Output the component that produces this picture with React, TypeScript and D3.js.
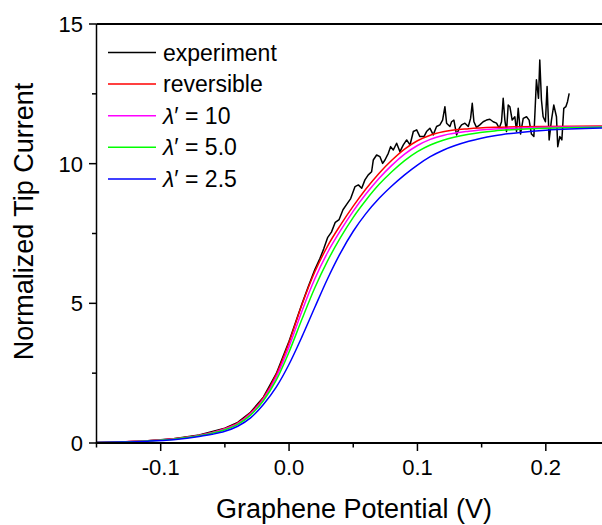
import React from "react";
import * as d3 from "d3";

// Potentials (V) for model curves
const potentials = [-0.15, -0.13, -0.11, -0.09, -0.07, -0.06, -0.05, -0.04, -0.03, -0.02, -0.01, 0.0, 0.01, 0.02, 0.03, 0.04, 0.05, 0.06, 0.07, 0.08, 0.09, 0.1, 0.11, 0.12, 0.14, 0.16, 0.18, 0.2, 0.25];
const reversible = [0.02, 0.04, 0.08, 0.15, 0.28, 0.38, 0.52, 0.72, 1.08, 1.62, 2.45, 3.6, 4.95, 6.12, 7.05, 7.8, 8.48, 9.1, 9.65, 10.12, 10.52, 10.82, 11.02, 11.14, 11.25, 11.3, 11.32, 11.33, 11.35];
const lambda10 = [0.02, 0.04, 0.078, 0.144, 0.27, 0.366, 0.5, 0.696, 1.044, 1.572, 2.36, 3.45, 4.72, 5.87, 6.82, 7.6, 8.3, 8.92, 9.47, 9.94, 10.34, 10.65, 10.87, 11.01, 11.16, 11.24, 11.28, 11.3, 11.34];
const lambda5 = [0.02, 0.038, 0.074, 0.137, 0.258, 0.349, 0.475, 0.666, 0.999, 1.512, 2.248, 3.26, 4.43, 5.55, 6.52, 7.35, 8.08, 8.7, 9.25, 9.71, 10.11, 10.43, 10.67, 10.84, 11.05, 11.17, 11.23, 11.27, 11.32];
const lambda25 = [0.02, 0.035, 0.065, 0.12, 0.23, 0.31, 0.42, 0.6, 0.9, 1.38, 2.0, 2.82, 3.8, 4.85, 5.88, 6.8, 7.58, 8.22, 8.75, 9.2, 9.6, 9.95, 10.25, 10.48, 10.8, 11.0, 11.12, 11.2, 11.28];

// Experiment
const expPotential = [-0.15, -0.13, -0.11, -0.09, -0.07, -0.05, -0.04, -0.03, -0.02, -0.01, 0.0, 0.01, 0.015, 0.02, 0.024, 0.027, 0.03, 0.033, 0.036, 0.039, 0.042, 0.045, 0.048,
  0.0514, 0.054, 0.0566, 0.0591, 0.0617, 0.0643, 0.0656, 0.0682, 0.0708, 0.0729, 0.0747, 0.0773, 0.0791, 0.0812, 0.0838, 0.0864, 0.089, 0.0916, 0.0942, 0.0968, 0.0994,
  0.1019, 0.1051, 0.1071, 0.1097, 0.1123, 0.1149, 0.1175, 0.1196, 0.1214, 0.1227, 0.1253, 0.1266, 0.1284, 0.1305, 0.1326, 0.1344, 0.137, 0.1396, 0.1414, 0.1427, 0.144,
  0.146, 0.1486, 0.1512, 0.1538, 0.1564, 0.159, 0.1616, 0.1637, 0.1655, 0.1668, 0.1681, 0.1694, 0.1707, 0.172, 0.1738, 0.1759, 0.1772, 0.1785, 0.1803, 0.1824, 0.185,
  0.187, 0.1888, 0.1907, 0.1927, 0.1943, 0.1953, 0.1966, 0.1979, 0.1997, 0.201, 0.2026, 0.2044, 0.2062, 0.2083, 0.2093, 0.2109, 0.2125, 0.214, 0.2156, 0.2169, 0.2182];
const expCurrent = [0.02, 0.04, 0.08, 0.15, 0.29, 0.53, 0.74, 1.1, 1.64, 2.48, 3.64, 4.98, 5.6, 6.2, 6.6, 6.95, 7.35, 7.55, 7.9, 8.0, 8.35, 8.55, 8.75,
  9.18, 9.24, 9.12, 9.42, 9.6, 9.71, 10.13, 10.31, 10.25, 10.01, 10.13, 10.37, 10.61, 10.49, 10.73, 10.43, 10.67, 10.85, 10.67, 11.15, 11.21,
  10.97, 10.97, 11.15, 11.27, 11.03, 11.33, 11.39, 11.56, 12.04, 11.45, 11.33, 11.5, 11.56, 11.03, 11.27, 11.39, 11.45, 11.33, 11.62, 12.16, 11.5,
  11.3, 11.39, 11.5, 11.56, 11.59, 11.5, 11.45, 11.27, 11.5, 12.34, 11.56, 11.15, 12.1, 12.04, 11.56, 11.68, 11.15, 11.98, 11.06, 11.62, 11.68,
  11.56, 11.06, 10.97, 13.0, 12.34, 13.71, 12.28, 11.68, 11.5, 12.76, 10.85, 11.56, 12.1, 11.68, 10.61, 10.97, 10.85, 11.98, 12.04, 12.22, 12.52];

const xTicks = [-0.1, 0.0, 0.1, 0.2];
const xMinorTicks = [-0.15, -0.05, 0.05, 0.15];
const yTicks = [0, 5, 10, 15];
const yMinorTicks = [2.5, 7.5, 12.5];

const seriesNames = ["experiment", "reversible", "λ′ = 10", "λ′ = 5.0", "λ′ = 2.5"];
const seriesColors = ["#000000", "#ff0000", "#ff00ff", "#00ff00", "#0000ff"];

const W = 602;
const H = 525;
const margin = { left: 96.5, top: 24, right: -8, bottom: 82 };
const font = "Arial, 'Liberation Sans', Helvetica, sans-serif";

export default function App() {
  const x = d3.scaleLinear().domain([-0.15, 0.25]).range([margin.left, W - margin.right]);
  const y = d3.scaleLinear().domain([0, 15]).range([H - margin.bottom, margin.top]);

  const smooth = d3
    .line<[number, number]>()
    .x((d) => x(d[0]))
    .y((d) => y(d[1]))
    .curve(d3.curveMonotoneX);
  const raw = d3
    .line<[number, number]>()
    .x((d) => x(d[0]))
    .y((d) => y(d[1]));

  const zip = (xs: number[], ys: number[]) => xs.map((v, i) => [v, ys[i]] as [number, number]);
  const model = [reversible, lambda10, lambda5, lambda25];

  const x0 = x(-0.15);
  const x1 = x(0.25);
  const yb = y(0);
  const yt = y(15);

  const legendX = 108;
  const legendY0 = 52.5;
  const legendDy = 31.6;

  return (
    <svg width={W} height={H} style={{ position: "absolute", left: 0, top: 0, background: "#fff" }} fontFamily={font}>
      <defs>
        <clipPath id="plot">
          <rect x={x0} y={yt} width={x1 - x0} height={yb - yt} />
        </clipPath>
      </defs>
      <g clipPath="url(#plot)" fill="none" strokeLinejoin="round">
        <path d={raw(zip(expPotential, expCurrent)) || ""} stroke={seriesColors[0]} strokeWidth={1.5} />
        {model.map((vals, i) => (
          <path key={i} d={smooth(zip(potentials, vals)) || ""} stroke={seriesColors[i + 1]} strokeWidth={1.5} />
        ))}
      </g>
      {/* frame */}
      <line x1={x0} x2={x0} y1={yt} y2={yb} stroke="#000" strokeWidth={1.5} />
      <line x1={x0} x2={x1} y1={yt} y2={yt} stroke="#000" strokeWidth={2} />
      <line x1={x0 - 0.75} x2={x1} y1={yb} y2={yb} stroke="#000" strokeWidth={2} />
      {/* x ticks */}
      {xTicks.map((t) => (
        <g key={"xt" + t}>
          <line x1={x(t)} x2={x(t)} y1={yb} y2={yb + 8} stroke="#000" strokeWidth={1.5} />
          <text x={x(t)} y={475} fontSize={22} textAnchor="middle" fill="#000">
            {d3.format(".1f")(t).replace("−", "-")}
          </text>
        </g>
      ))}
      {xMinorTicks.map((t) => (
        <line key={"xm" + t} x1={x(t)} x2={x(t)} y1={yb} y2={yb + 4.5} stroke="#000" strokeWidth={1.5} />
      ))}
      {/* y ticks */}
      {yTicks.map((t) => (
        <g key={"yt" + t}>
          <line x1={x0 - 7.5} x2={x0} y1={y(t)} y2={y(t)} stroke="#000" strokeWidth={1.5} />
          <text x={83} y={y(t)} dy="0.36em" fontSize={22} textAnchor="end" fill="#000">
            {t}
          </text>
        </g>
      ))}
      {yMinorTicks.map((t) => (
        <line key={"ym" + t} x1={x0 - 4.5} x2={x0} y1={y(t)} y2={y(t)} stroke="#000" strokeWidth={1.5} />
      ))}
      {/* axis titles */}
      <text x={354} y={518} fontSize={27} textAnchor="middle" fill="#000">
        Graphene Potential (V)
      </text>
      <text transform={`translate(33, ${(yt + yb) / 2 - 12}) rotate(-90)`} fontSize={27} textAnchor="middle" fill="#000">
        Normalized Tip Current
      </text>
      {/* legend */}
      {seriesNames.map((name, i) => {
        const ly = legendY0 + i * legendDy;
        const isLambda = name.startsWith("λ");
        return (
          <g key={name}>
            <line x1={legendX} x2={legendX + 48} y1={ly} y2={ly} stroke={seriesColors[i]} strokeWidth={1.5} />
            <text x={legendX + 55} y={ly + 8} fontSize={23} fill="#000">
              {isLambda ? (
                <>
                  <tspan fontStyle="italic">λ</tspan>
                  <tspan>{name.slice(1)}</tspan>
                </>
              ) : (
                name
              )}
            </text>
          </g>
        );
      })}
    </svg>
  );
}
